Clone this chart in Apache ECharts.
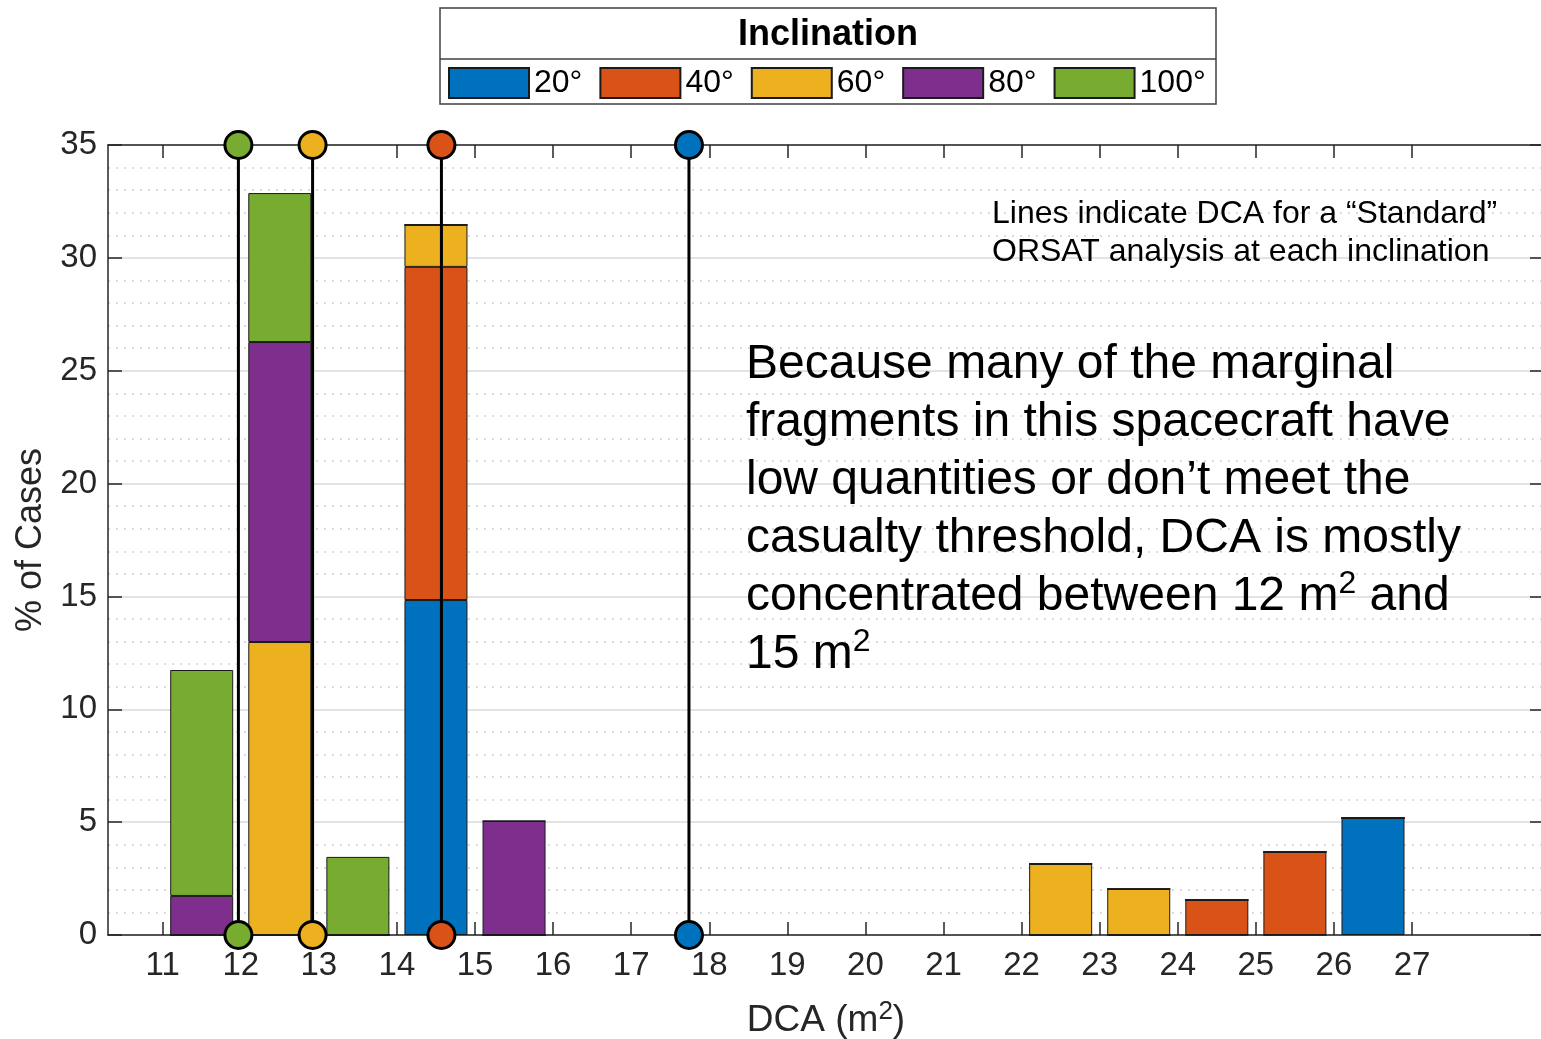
<!DOCTYPE html>
<html>
<head>
<meta charset="utf-8">
<script src="https://cdn.jsdelivr.net/npm/echarts@6/dist/echarts.min.js"></script>
<style>
html,body{margin:0;padding:0;background:#fff;}
#chart{width:1541px;height:1039px;}
</style>
</head>
<body>
<div id="chart"></div>
<script>
// ---- data ----
const binCenters = [11.5, 12.5, 13.5, 14.5, 15.5, 22.5, 23.5, 24.5, 25.5, 26.5];
const inclinationNames = ['20°', '40°', '60°', '80°', '100°'];
const inc20  = [0,     0,     0,    14.84, 0,    0,    0,    0,    0,    5.18];
const inc40  = [0,     0,     0,    14.76, 0,    0,    0,    1.55, 3.68, 0];
const inc60  = [0,     12.98, 0,    1.86,  0,    3.15, 2.04, 0,    0,    0];
const inc80  = [1.73,  13.29, 0,    0,     5.05, 0,    0,    0,    0,    0];
const inc100 = [10.01, 6.60,  3.46, 0,     0,    0,    0,    0,    0,    0];
const standardDca = [17.74, 14.57, 12.92, 11.97]; // 20°, 40°, 60°, 100°
const standardNames = ['20°', '40°', '60°', '100°'];
const xTicks = [11,12,13,14,15,16,17,18,19,20,21,22,23,24,25,26,27];
const yMin = 0, yMax = 35, yStep = 5;

const colors = {'20°':'#0072BD','40°':'#D95319','60°':'#EDB120','80°':'#7E2F8E','100°':'#77AC30'};
const seriesValues = [inc20, inc40, inc60, inc80, inc100];

const mFont = '"Liberation Sans", Arial, sans-serif';
const aFont = '"Liberation Sans", Arial, sans-serif';
const axisColor = '#262626';

const chart = echarts.init(document.getElementById('chart'), null, {renderer:'canvas'});

const series = [];
inclinationNames.forEach((n, k) => {
  series.push({
    name: n, type: 'bar', stack: 'dca', barWidth: 63,
    // value first so that it is the stacked dimension
    data: binCenters.map((b, i) => [seriesValues[k][i], b]),
    encode: {x: 1, y: 0},
    itemStyle: {color: colors[n], borderColor: '#1a1a1a', borderWidth: 1},
    emphasis: {disabled: true},
    z: 2
  });
});
standardDca.forEach((x, k) => {
  series.push({
    name: 'std ' + standardNames[k], type: 'line', clip: false,
    data: [[x, yMin], [x, yMax]],
    symbol: 'circle', symbolSize: 27,
    itemStyle: {color: colors[standardNames[k]], borderColor: '#000', borderWidth: 3},
    lineStyle: {color: '#000', width: 3},
    emphasis: {disabled: true},
    z: 5
  });
});

const option = {
  animation: false,
  backgroundColor: '#fff',
  grid: {left: 108, top: 145, width: 1436, height: 790, containLabel: false, outerBoundsMode: 'none'},
  legend: {
    data: inclinationNames, left: 448, top: 67, orient: 'horizontal',
    itemWidth: 80, itemHeight: 30, itemGap: 17, padding: 0,
    icon: 'rect', selectedMode: false,
    textStyle: {fontFamily: mFont, fontSize: 32, color: '#000'}
  },
  xAxis: [{
    type: 'value', min: 10.3, max: 28.69, position: 'bottom',
    axisLine: {show: true, onZero: false, lineStyle: {color: axisColor, width: 1.5}},
    axisTick: {show: true, inside: true, length: 13, customValues: xTicks, lineStyle: {color: axisColor, width: 1.5}},
    axisLabel: {customValues: xTicks, fontFamily: mFont, fontSize: 33, color: axisColor, margin: 14},
    splitLine: {show: false},
    name: 'DCA (m{s|2})', nameLocation: 'middle', nameGap: 64,
    nameTextStyle: {fontFamily: mFont, fontSize: 37, lineHeight: 44, color: axisColor,
      rich: {s: {fontFamily: mFont, fontSize: 26, verticalAlign: 'top', lineHeight: 26, color: axisColor}}}
  }, {
    type: 'value', min: 10.3, max: 28.69, position: 'top',
    axisLine: {show: true, onZero: false, lineStyle: {color: axisColor, width: 1.5}},
    axisTick: {show: true, inside: true, length: 13, customValues: xTicks, lineStyle: {color: axisColor, width: 1.5}},
    axisLabel: {show: false}, splitLine: {show: false}
  }],
  yAxis: [{
    type: 'value', min: yMin, max: yMax, interval: yStep, position: 'left',
    axisLine: {show: true, onZero: false, lineStyle: {color: axisColor, width: 1.5}},
    axisTick: {show: true, inside: true, length: 14, lineStyle: {color: axisColor, width: 1.5}},
    axisLabel: {fontFamily: mFont, fontSize: 33, color: axisColor, margin: 11},
    splitLine: {show: true, lineStyle: {color: '#e3e3e3', width: 2}},
    minorTick: {show: false, splitNumber: 5},
    minorSplitLine: {show: true, lineStyle: {color: '#cfcfcf', width: 1.5, type: [2, 6]}},
    name: '% of Cases', nameLocation: 'middle', nameGap: 57,
    nameTextStyle: {fontFamily: mFont, fontSize: 36, color: axisColor}
  }, {
    type: 'value', min: yMin, max: yMax, interval: yStep, position: 'right',
    axisLine: {show: true, onZero: false, lineStyle: {color: axisColor, width: 1.5}},
    axisTick: {show: true, inside: true, length: 14, lineStyle: {color: axisColor, width: 1.5}},
    axisLabel: {show: false}, splitLine: {show: false}
  }],
  graphic: [
    {type: 'rect', z: 0, shape: {x: 440, y: 8, width: 776, height: 96},
     style: {fill: '#fff', stroke: '#404040', lineWidth: 1.5}},
    {type: 'line', z: 1, shape: {x1: 440, y1: 59, x2: 1216, y2: 59},
     style: {stroke: '#404040', lineWidth: 1.5}},
    {type: 'text', z: 1, x: 828, y: 35,
     style: {text: 'Inclination', font: 'bold 36px ' + mFont, align: 'center', verticalAlign: 'middle', fill: '#000'}},
    {type: 'text', z: 10, x: 992, y: 195,
     style: {text: 'Lines indicate DCA for a \u201cStandard\u201d\nORSAT analysis at each inclination',
       font: '32px ' + aFont, lineHeight: 38, align: 'left', verticalAlign: 'top', fill: '#000'}},
    {type: 'text', z: 10, x: 746, y: 336,
     style: {text: 'Because many of the marginal\nfragments in this spacecraft have\nlow quantities or don\u2019t meet the\ncasualty threshold, DCA is mostly\nconcentrated between 12 m{s|2} and\n15 m{s|2}',
       font: '48px ' + aFont, lineHeight: 58, align: 'left', verticalAlign: 'top', fill: '#000',
       rich: {s: {fontFamily: aFont, fontSize: 32, lineHeight: 36, verticalAlign: 'top', fill: '#000', color: '#000'}}}}
  ],
  series: series
};
chart.setOption(option);
</script>
</body>
</html>
